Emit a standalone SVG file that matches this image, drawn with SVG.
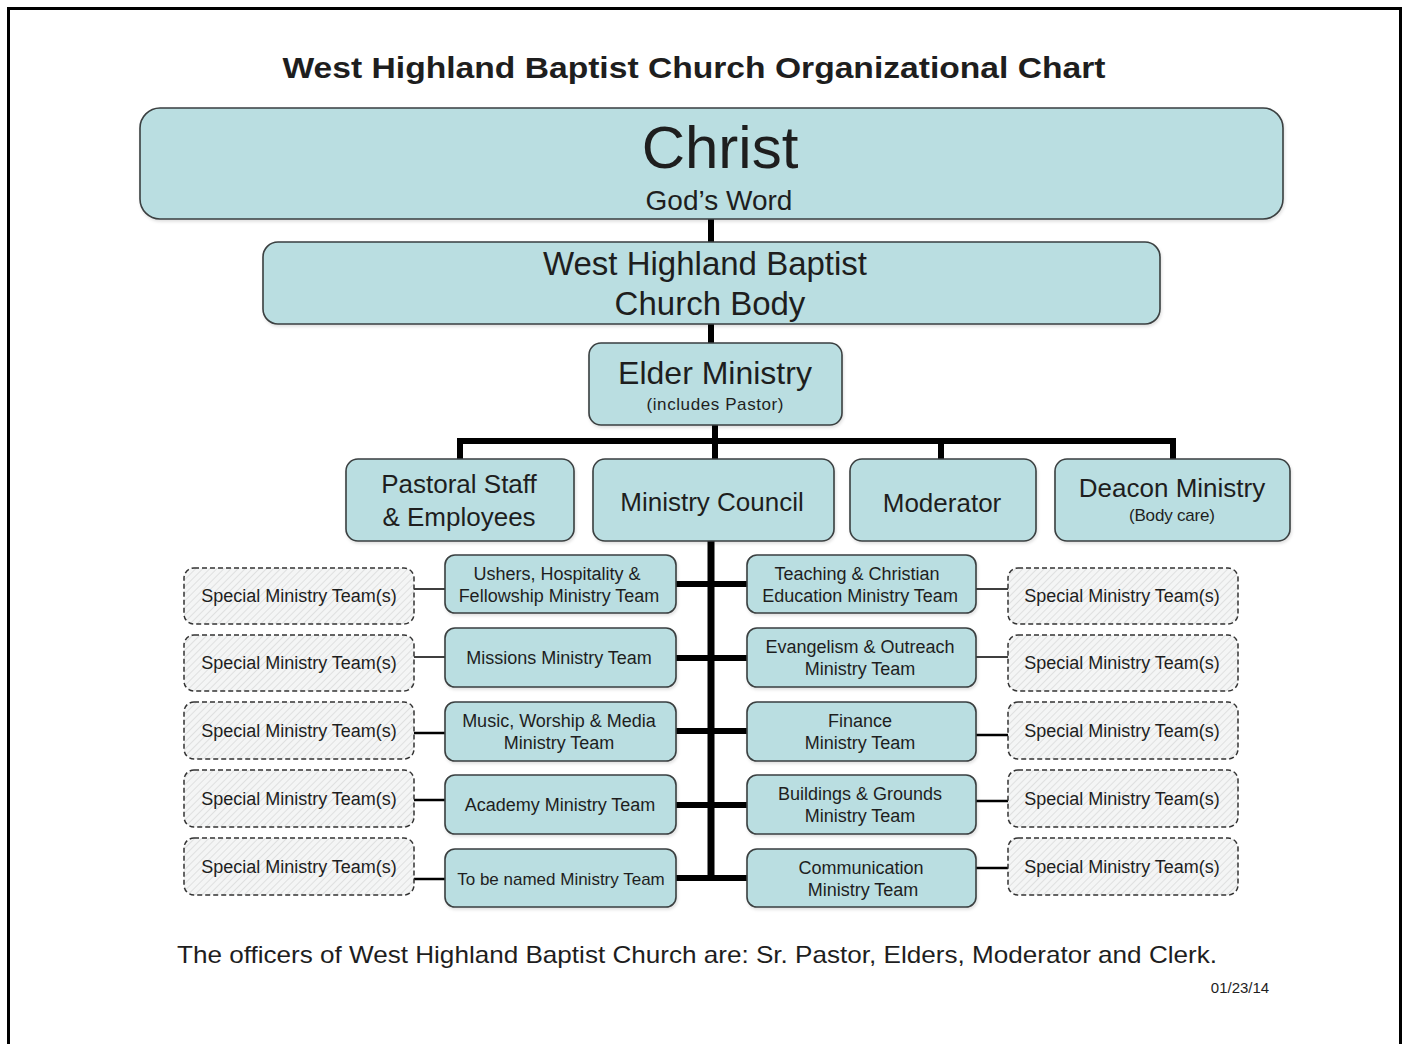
<svg xmlns="http://www.w3.org/2000/svg" width="1408" height="1044" viewBox="0 0 1408 1044">
<defs>
<pattern id="hatch" patternUnits="userSpaceOnUse" width="5" height="5" patternTransform="rotate(45)">
<rect width="5" height="5" fill="#f4f5f5"/>
<line x1="0" y1="0" x2="0" y2="5" stroke="#d6d8d8" stroke-width="1.4"/>
</pattern>
<filter id="sh" x="-5%" y="-5%" width="110%" height="120%">
<feDropShadow dx="1" dy="2" stdDeviation="1.5" flood-color="#000" flood-opacity="0.12"/>
</filter>
</defs>
<style>
text{font-family:"Liberation Sans",Arial,sans-serif;fill:#1e1e1e;text-anchor:middle}
.box{fill:#badee1;stroke:#3a3f40;stroke-width:1.6;filter:url(#sh)}
.dash{fill:url(#hatch);stroke:#333;stroke-width:1.5;stroke-dasharray:5 3}
.thick{stroke:#000;fill:none;stroke-width:6;stroke-linejoin:miter}
.thin{stroke:#000;fill:none;stroke-width:1.6}
.med{stroke:#000;fill:none;stroke-width:2.6}
.t18{font-size:18px}
.t26{font-size:26px}
</style>
<rect x="8.5" y="8.5" width="1392" height="1045" fill="#fff" stroke="#000" stroke-width="3"/>
<text x="694" y="78" font-size="30" font-weight="bold" textLength="823" lengthAdjust="spacingAndGlyphs">West Highland Baptist Church Organizational Chart</text>

<g id="connectors">
<path class="thick" d="M711,219V242M711,324V343"/>
<path class="thick" d="M460,459V441H1173V459M715,425V459M941,441V459"/>
<path class="thick" d="M711,541V881" style="stroke-width:7"/>
<path class="thick" d="M676,584H747M676,658H747M676,731H747M676,805H747M676,878H747"/>
<path class="thin" d="M414,589H445M414,657H445M976,589H1008M976,657H1008"/>
<path class="med" d="M414,733H445M414,800H445M414,879H445M976,735H1008M976,801H1008M976,868H1008"/>
</g>

<g id="christ">
<rect class="box" x="140" y="108" width="1143" height="111" rx="20"/>
<text x="720" y="168" font-size="60">Christ</text>
<text x="719" y="210" font-size="28">God’s Word</text>
</g>
<g id="church-body">
<rect class="box" x="263" y="242" width="897" height="82" rx="15"/>
<text x="705" y="275" font-size="33">West Highland Baptist</text>
<text x="710" y="315" font-size="33">Church Body</text>
</g>
<g id="elder">
<rect class="box" x="589" y="343" width="253" height="82" rx="12"/>
<text x="715" y="384" font-size="32">Elder Ministry</text>
<text x="715" y="410" font-size="17" textLength="137">(includes Pastor)</text>
</g>
<g id="pastoral">
<rect class="box" x="346" y="459" width="228" height="82" rx="12"/>
<text class="t26" x="459" y="493">Pastoral Staff</text>
<text class="t26" x="459" y="526">&amp; Employees</text>
</g>
<g id="council">
<rect class="box" x="593" y="459" width="241" height="82" rx="12"/>
<text class="t26" x="712" y="511">Ministry Council</text>
</g>
<g id="moderator">
<rect class="box" x="850" y="459" width="186" height="82" rx="12"/>
<text class="t26" x="942" y="512">Moderator</text>
</g>
<g id="deacon">
<rect class="box" x="1055" y="459" width="235" height="82" rx="12"/>
<text class="t26" x="1172" y="497">Deacon Ministry</text>
<text x="1172" y="521" font-size="17" textLength="86">(Body care)</text>
</g>

<g id="ushers">
<rect class="box" x="445" y="555" width="231" height="58" rx="10"/>
<text class="t18" x="557" y="580">Ushers, Hospitality &amp;</text>
<text class="t18" x="559" y="602">Fellowship Ministry Team</text>
</g>
<g id="missions">
<rect class="box" x="445" y="628" width="231" height="59" rx="10"/>
<text class="t18" x="559" y="664">Missions Ministry Team</text>
</g>
<g id="music">
<rect class="box" x="445" y="702" width="231" height="59" rx="10"/>
<text class="t18" x="559" y="727">Music, Worship &amp; Media</text>
<text class="t18" x="559" y="749">Ministry Team</text>
</g>
<g id="academy">
<rect class="box" x="445" y="775" width="231" height="59" rx="10"/>
<text class="t18" x="560" y="811">Academy Ministry Team</text>
</g>
<g id="tobenamed">
<rect class="box" x="445" y="849" width="231" height="58" rx="10"/>
<text x="561" y="885" font-size="17">To be named Ministry Team</text>
</g>

<g id="teaching">
<rect class="box" x="747" y="555" width="229" height="58" rx="10"/>
<text class="t18" x="857" y="580">Teaching  &amp; Christian</text>
<text class="t18" x="860" y="602">Education Ministry Team</text>
</g>
<g id="evangelism">
<rect class="box" x="747" y="628" width="229" height="59" rx="10"/>
<text class="t18" x="860" y="653">Evangelism  &amp; Outreach</text>
<text class="t18" x="860" y="675">Ministry Team</text>
</g>
<g id="finance">
<rect class="box" x="747" y="702" width="229" height="59" rx="10"/>
<text class="t18" x="860" y="727">Finance</text>
<text class="t18" x="860" y="749">Ministry Team</text>
</g>
<g id="buildings">
<rect class="box" x="747" y="775" width="229" height="59" rx="10"/>
<text class="t18" x="860" y="800">Buildings &amp; Grounds</text>
<text class="t18" x="860" y="822">Ministry Team</text>
</g>
<g id="communication">
<rect class="box" x="747" y="849" width="229" height="58" rx="10"/>
<text class="t18" x="861" y="874">Communication</text>
<text class="t18" x="863" y="896">Ministry Team</text>
</g>

<g id="special-l1"><rect class="dash" x="184" y="568" width="230" height="56" rx="10"/><text class="t18" x="299" y="602">Special Ministry Team(s)</text></g>
<g id="special-l2"><rect class="dash" x="184" y="635" width="230" height="56" rx="10"/><text class="t18" x="299" y="669">Special Ministry Team(s)</text></g>
<g id="special-l3"><rect class="dash" x="184" y="702" width="230" height="57" rx="10"/><text class="t18" x="299" y="737">Special Ministry Team(s)</text></g>
<g id="special-l4"><rect class="dash" x="184" y="770" width="230" height="57" rx="10"/><text class="t18" x="299" y="805">Special Ministry Team(s)</text></g>
<g id="special-l5"><rect class="dash" x="184" y="838" width="230" height="57" rx="10"/><text class="t18" x="299" y="873">Special Ministry Team(s)</text></g>

<g id="special-r1"><rect class="dash" x="1008" y="568" width="230" height="56" rx="10"/><text class="t18" x="1122" y="602">Special Ministry Team(s)</text></g>
<g id="special-r2"><rect class="dash" x="1008" y="635" width="230" height="56" rx="10"/><text class="t18" x="1122" y="669">Special Ministry Team(s)</text></g>
<g id="special-r3"><rect class="dash" x="1008" y="702" width="230" height="57" rx="10"/><text class="t18" x="1122" y="737">Special Ministry Team(s)</text></g>
<g id="special-r4"><rect class="dash" x="1008" y="770" width="230" height="57" rx="10"/><text class="t18" x="1122" y="805">Special Ministry Team(s)</text></g>
<g id="special-r5"><rect class="dash" x="1008" y="838" width="230" height="57" rx="10"/><text class="t18" x="1122" y="873">Special Ministry Team(s)</text></g>

<text x="697" y="963" font-size="24" textLength="1040" lengthAdjust="spacingAndGlyphs">The officers of West Highland Baptist Church are:  Sr. Pastor, Elders, Moderator and Clerk.</text>
<text x="1240" y="993" font-size="15">01/23/14</text>
</svg>
